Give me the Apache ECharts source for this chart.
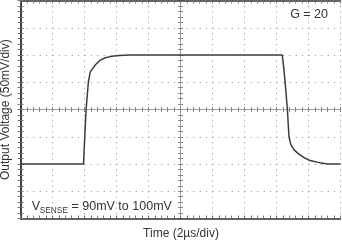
<!DOCTYPE html>
<html>
<head>
<meta charset="utf-8">
<script src="https://cdn.jsdelivr.net/npm/echarts@6/dist/echarts.min.js"></script>
<style>
html,body{margin:0;padding:0;background:#fff;}
#chart{width:342px;height:242px;}
</style>
</head>
<body>
<div id="chart"></div>
<script>
// Time in microseconds (2 µs/div, 10 divisions)
var timeUs = [0, 3.94, 4.0, 4.1, 4.24, 4.36, 4.5, 4.7, 4.96, 5.3, 5.7, 6.2, 6.8, 16.36, 16.44, 16.54, 16.68, 16.78, 16.9, 17.1, 17.36, 17.7, 18.0, 18.3, 18.6, 18.9, 19.2, 20];
// Output voltage in mV (50 mV/div)
var outputMv = [1800, 1800, 1840, 1900, 1950, 1969, 1975, 1982.5, 1990, 1995, 1997.5, 1999, 2000, 2000, 1980, 1950, 1900, 1850, 1835, 1826, 1819, 1812, 1807.5, 1805, 1803, 1801.5, 1800, 1800];
var xMin = 0, xMax = 20, xStep = 2;
var yMin = 1700, yMax = 2100, yStep = 50;
var yAxisTitle = 'Output Voltage (50mV/div)';
var xAxisTitle = 'Time (2µs/div)';
var gainText = 'G = 20';
var senseMain = 'V', senseSub = 'SENSE', senseRest = ' = 90mV to 100mV';

var data = timeUs.map(function (t, i) { return [t, outputMv[i]]; });

var FONT = '"Liberation Sans", Arial, sans-serif';
var gridL = 20.5, gridR = 1.5, gridT = 0.5, gridB = 23.5;
var W = 342, H = 242;
var pw = W - gridL - gridR, ph = H - gridT - gridB;
var border = '#333333';
var centerCol = '#a0a0a0';
var dotCol = '#8c8c8c';

function xAx(opts) {
  return Object.assign({
    type: 'value', min: xMin, max: xMax, interval: xStep,
    axisLabel: { show: false },
    splitLine: { show: false },
    axisLine: { show: true, lineStyle: { color: border, width: 1.5 } },
    axisTick: { show: true, inside: true, length: 3, lineStyle: { color: '#777', width: 1 } },
    minorTick: { show: true, splitNumber: 5, length: 3, lineStyle: { color: '#777', width: 1 } }
  }, opts);
}
function yAx(opts) {
  return Object.assign({
    type: 'value', min: yMin, max: yMax, interval: yStep,
    axisLabel: { show: false },
    splitLine: { show: false },
    axisLine: { show: true, lineStyle: { color: border, width: 1.5 } },
    axisTick: { show: true, inside: true, length: 3, lineStyle: { color: '#777', width: 1 } },
    minorTick: { show: true, splitNumber: 5, length: 3, lineStyle: { color: '#777', width: 1 } }
  }, opts);
}
var centerLine = { show: true, lineStyle: { color: centerCol, width: 1 } };
var cTick = function (inside) { return { show: true, inside: inside, length: 2.5, lineStyle: { color: '#888', width: 1 } }; };
var cMinor = function () { return { show: true, splitNumber: 5, length: 2.5, lineStyle: { color: '#888', width: 1 } }; };

var chart = echarts.init(document.getElementById('chart'), null, { renderer: 'canvas' });
chart.setOption({
  animation: false,
  backgroundColor: '#fff',
  grid: { left: gridL, right: gridR, top: gridT, bottom: gridB, containLabel: false },
  xAxis: [
    xAx({ position: 'bottom', z: 3, splitLine: { show: true, lineStyle: { color: dotCol, width: 1, type: [1, 4.45] } } }),
    xAx({ position: 'top', z: 3 }),
    xAx({ position: 'bottom', offset: -ph / 2, axisLine: centerLine, axisTick: cTick(true), minorTick: cMinor() }),
    xAx({ position: 'top', offset: -ph / 2, axisLine: centerLine, axisTick: cTick(true), minorTick: cMinor() })
  ],
  yAxis: [
    yAx({ position: 'left', z: 3, splitLine: { show: true, lineStyle: { color: dotCol, width: 1, type: [1, 5.4] } } }),
    yAx({ position: 'right', z: 3 }),
    yAx({ position: 'left', offset: -pw / 2, axisLine: centerLine, axisTick: cTick(true), minorTick: cMinor() }),
    yAx({ position: 'right', offset: -pw / 2, axisLine: centerLine, axisTick: cTick(true), minorTick: cMinor() })
  ],
  series: [{
    type: 'line', xAxisIndex: 0, yAxisIndex: 0,
    data: data, showSymbol: false, symbol: 'none', smooth: false,
    lineStyle: { color: '#3c3c3c', width: 1.5 }, z: 5
  }],
  graphic: [
    { type: 'text', x: 5.3, y: 109.6, rotation: Math.PI / 2,
      style: { text: yAxisTitle, font: '12px ' + FONT, fill: '#333', align: 'center', verticalAlign: 'middle' } },
    { type: 'text', x: 181, y: 233.4,
      style: { text: xAxisTitle, font: '12px ' + FONT, fill: '#333', align: 'center', verticalAlign: 'middle' } },
    { type: 'text', x: 328, y: 14.6,
      style: { text: gainText, font: '12.5px ' + FONT, fill: '#333', align: 'right', verticalAlign: 'middle' } },
    { type: 'text', x: 31.8, y: 206.4,
      style: { text: senseMain, font: '12.5px ' + FONT, fill: '#333', align: 'left', verticalAlign: 'middle' } },
    { type: 'text', x: 39.8, y: 210.3,
      style: { text: senseSub, font: '8.3px ' + FONT, fill: '#333', align: 'left', verticalAlign: 'middle' } },
    { type: 'text', x: 68, y: 206.4,
      style: { text: senseRest, font: '12.5px ' + FONT, fill: '#333', align: 'left', verticalAlign: 'middle' } }
  ]
});
</script>
</body>
</html>
